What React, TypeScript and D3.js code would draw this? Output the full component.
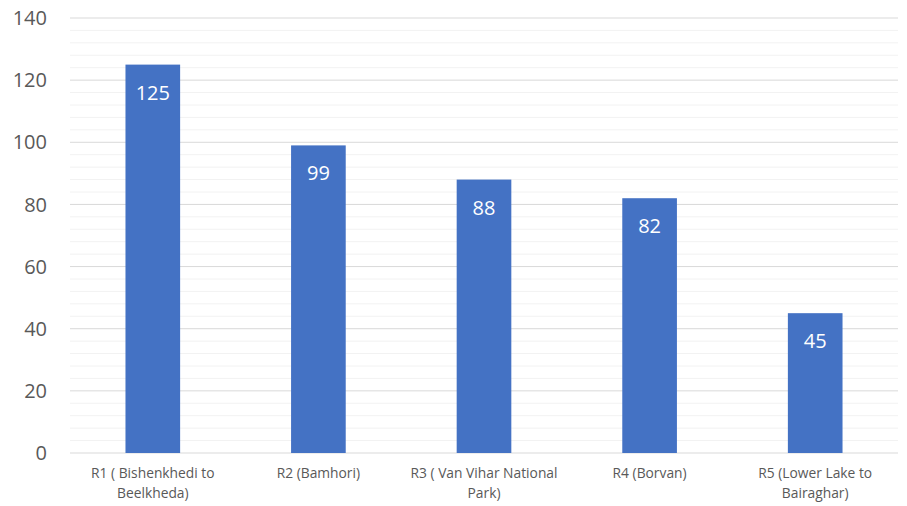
import React from "react";
import * as d3 from "d3";

const categories = [
  "R1 ( Bishenkhedi to Beelkheda)",
  "R2 (Bamhori)",
  "R3 ( Van Vihar National Park)",
  "R4 (Borvan)",
  "R5 (Lower Lake to Bairaghar)",
];
const categoryLines = [
  ["R1 ( Bishenkhedi to", "Beelkheda)"],
  ["R2 (Bamhori)"],
  ["R3 ( Van Vihar National", "Park)"],
  ["R4 (Borvan)"],
  ["R5 (Lower Lake to", "Bairaghar)"],
];
const values = [125, 99, 88, 82, 45];
const yTicks = [0, 20, 40, 60, 80, 100, 120, 140];

const W = 907;
const H = 506;
const margin = { left: 70, right: 9, top: 18, bottom: 53 };
const font = "'Open Sans', 'Noto Sans', sans-serif";

export default function App() {
  const x = d3
    .scaleBand<string>()
    .domain(categories)
    .range([margin.left, W - margin.right])
    .paddingInner(0.67)
    .paddingOuter(0.335);
  const y = d3.scaleLinear().domain([0, 140]).range([H - margin.bottom, margin.top]);
  const minor = d3.range(0, 141, 4).filter((v) => v % 20 !== 0);

  return (
    <svg width={W} height={H} style={{ position: "absolute", left: 0, top: 0, background: "#fff" }}>
      {minor.map((v) => (
        <line key={"m" + v} x1={margin.left} x2={W - margin.right} y1={y(v)} y2={y(v)} stroke="#F2F2F2" strokeWidth={1} />
      ))}
      {yTicks.map((v) => (
        <g key={"t" + v}>
          <line x1={margin.left} x2={W - margin.right} y1={y(v)} y2={y(v)} stroke="#D9D9D9" strokeWidth={1} />
          <text x={47} y={y(v)} dy="0.36em" textAnchor="end" fontFamily={font} fontSize={20} fill="#595959">
            {v}
          </text>
        </g>
      ))}
      {categories.map((c, i) => (
        <g key={c}>
          <rect x={x(c)} y={y(values[i])} width={x.bandwidth()} height={y(0) - y(values[i])} fill="#4472C4" />
          <text
            x={(x(c) as number) + x.bandwidth() / 2}
            y={y(values[i]) + 35}
            textAnchor="middle"
            fontFamily={font}
            fontSize={20}
            fill="#FFFFFF"
          >
            {values[i]}
          </text>
          {categoryLines[i].map((ln, j) => (
            <text
              key={j}
              x={(x(c) as number) + x.bandwidth() / 2}
              y={478 + j * 20}
              textAnchor="middle"
              fontFamily={font}
              fontSize={13.8}
              fill="#595959"
            >
              {ln}
            </text>
          ))}
        </g>
      ))}
    </svg>
  );
}
